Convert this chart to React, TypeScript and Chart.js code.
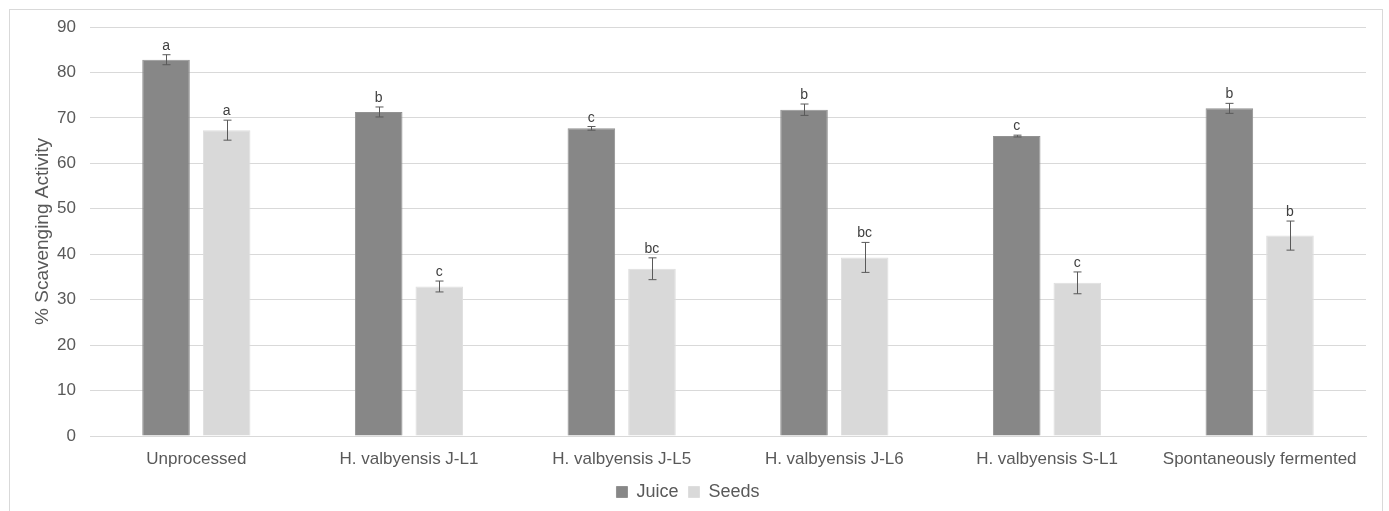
import React, { useEffect, useRef } from "react";
import { Chart, registerables } from "chart.js";

Chart.register(...registerables);

const categories = [
  "Unprocessed",
  "H. valbyensis J-L1",
  "H. valbyensis J-L5",
  "H. valbyensis J-L6",
  "H. valbyensis S-L1",
  "Spontaneously fermented",
];
const juice = [82.8, 71.3, 67.7, 71.8, 66.0, 72.1];
const juiceErr = [1.1, 1.1, 0.4, 1.25, 0.2, 1.1];
const juiceLetters = ["a", "b", "c", "b", "c", "b"];
const seeds = [67.3, 32.9, 36.8, 39.3, 33.7, 44.1];
const seedsErr = [2.2, 1.2, 2.4, 3.3, 2.4, 3.2];
const seedsLetters = ["a", "c", "bc", "bc", "c", "b"];
const yTicks = [0, 10, 20, 30, 40, 50, 60, 70, 80, 90];

const FONT = "'Liberation Sans', Arial, sans-serif";
const TEXT = "#595959";

const errs = [juiceErr, seedsErr];
const letters = [juiceLetters, seedsLetters];

const decorPlugin = {
  id: "decor",
  beforeDraw(chart: any) {
    const ctx = chart.ctx;
    ctx.save();
    ctx.fillStyle = "#ffffff";
    ctx.fillRect(0, 0, chart.width, chart.height);
    ctx.strokeStyle = "#d9d9d9";
    ctx.lineWidth = 1;
    ctx.strokeRect(9.5, 9.5, 1373, 520);
    ctx.restore();
  },
  afterDatasetsDraw(chart: any) {
    const ctx = chart.ctx;
    const y = chart.scales.y;
    ctx.save();
    chart.data.datasets.forEach((ds: any, di: number) => {
      const meta = chart.getDatasetMeta(di);
      meta.data.forEach((bar: any, i: number) => {
        const v = ds.data[i];
        const e = errs[di][i];
        const x = Math.round(bar.x) + 0.5;
        const yTop = y.getPixelForValue(v + e);
        const yBot = y.getPixelForValue(v - e);
        ctx.strokeStyle = "#595959";
        ctx.lineWidth = 1;
        ctx.beginPath();
        ctx.moveTo(x, yTop);
        ctx.lineTo(x, yBot);
        ctx.moveTo(x - 4, yTop);
        ctx.lineTo(x + 4, yTop);
        ctx.moveTo(x - 4, yBot);
        ctx.lineTo(x + 4, yBot);
        ctx.stroke();
        ctx.fillStyle = "#404040";
        ctx.font = `14px ${FONT}`;
        ctx.textAlign = "center";
        ctx.textBaseline = "alphabetic";
        ctx.fillText(letters[di][i], bar.x, yTop - 5);
      });
    });
    ctx.restore();
  },
};

export default function App() {
  const ref = useRef<HTMLCanvasElement>(null);
  useEffect(() => {
    if (!ref.current) return;
    const chart = new Chart(ref.current, {
      type: "bar",
      data: {
        labels: categories,
        datasets: [
          {
            label: "Juice",
            data: juice,
            backgroundColor: "#878787",
            borderColor: "#929292",
            borderWidth: 1,
            categoryPercentage: 0.57,
            barPercentage: 0.785,
          },
          {
            label: "Seeds",
            data: seeds,
            backgroundColor: "#d9d9d9",
            borderColor: "#dedede",
            borderWidth: 1,
            categoryPercentage: 0.57,
            barPercentage: 0.785,
          },
        ],
      },
      options: {
        responsive: false,
        animation: false,
        layout: { padding: { left: 10, right: 23, top: 27, bottom: 0 } },
        plugins: {
          legend: {
            position: "bottom",
            labels: {
              boxWidth: 11,
              boxHeight: 11,
              padding: 10,
              color: TEXT,
              font: { family: FONT, size: 18 },
            },
          },
          tooltip: { enabled: false },
        },
        scales: {
          x: {
            grid: { display: false },
            border: { display: true, color: "#d9d9d9", width: 1 },
            ticks: {
              color: TEXT,
              font: { family: FONT, size: 17 },
              maxRotation: 0,
              autoSkip: false,
              padding: 5,
            },
            afterFit(scale: any) {
              scale.height = 37;
            },
          },
          y: {
            min: 0,
            max: 90,
            afterBuildTicks(scale: any) {
              scale.ticks = yTicks.map((v) => ({ value: v }));
            },
            grid: { color: "#d9d9d9", drawTicks: false },
            border: { display: false },
            ticks: {
              color: TEXT,
              font: { family: FONT, size: 17 },
              padding: 14,
            },
            title: {
              display: true,
              text: "% Scavenging Activity",
              color: TEXT,
              font: { family: FONT, size: 19 },
              padding: { top: 21, bottom: 0 },
            },
            afterFit(scale: any) {
              scale.width = 80;
            },
          },
        },
      },
      plugins: [decorPlugin],
    });
    return () => chart.destroy();
  }, []);
  return (
    <div style={{ position: "absolute", left: 0, top: 0, width: 1389, height: 511 }}>
      <canvas ref={ref} width={1389} height={511} />
    </div>
  );
}
